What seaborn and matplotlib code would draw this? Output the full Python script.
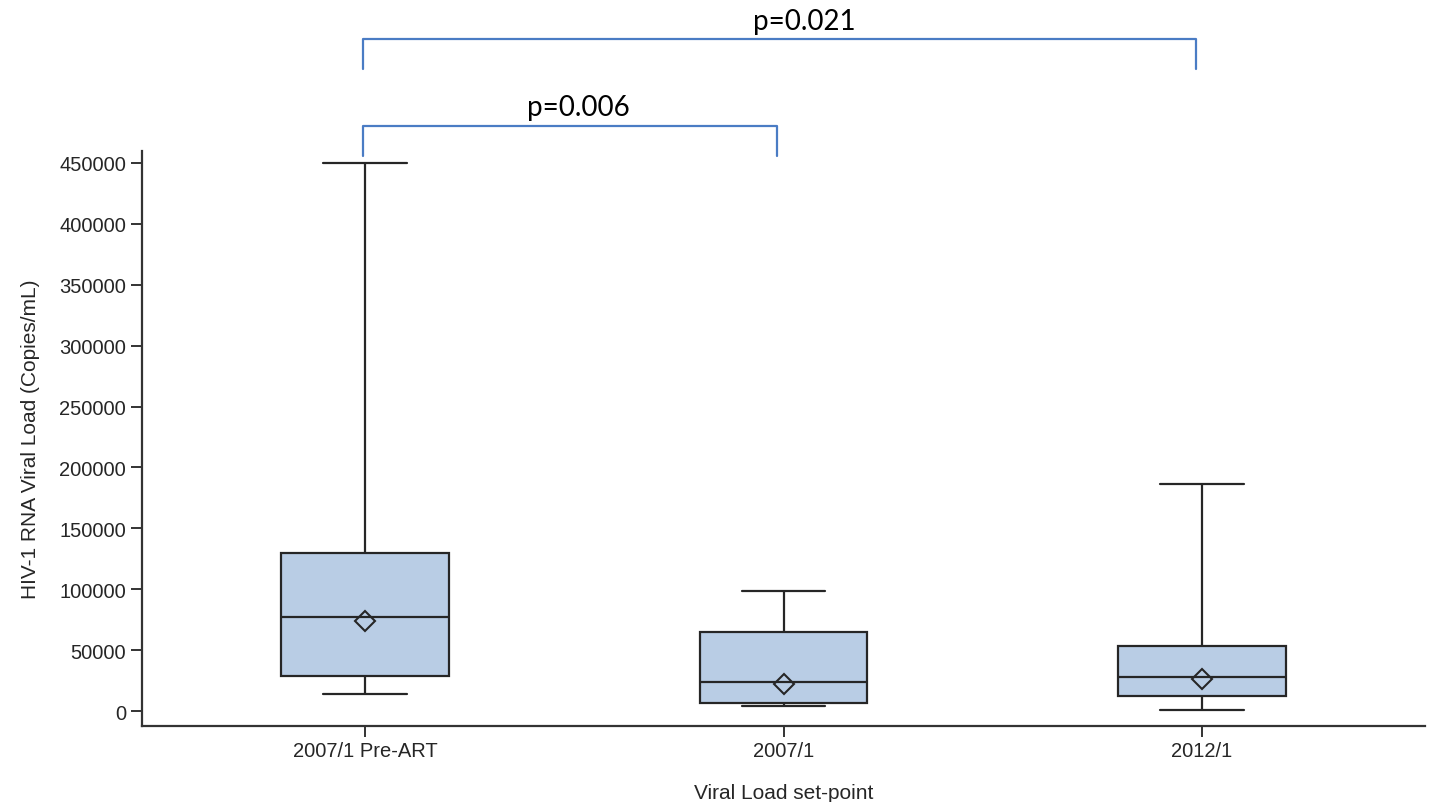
import numpy as np
import pandas as pd
import matplotlib
matplotlib.use("Agg")
import matplotlib.pyplot as plt
import matplotlib.transforms as mtransforms
import seaborn as sns

# box summary values
categories = ["2007/1 Pre-ART", "2007/1", "2012/1"]
whisker_low = [14000, 4100, 800]
q1 = [28700, 6600, 12300]
median = [77200, 23800, 27900]
q3 = [129700, 64900, 53400]
whisker_high = [450000, 98500, 186400]
means = [73900, 22200, 26300]

yticks = [0, 50000, 100000, 150000, 200000, 250000, 300000, 350000, 400000, 450000]

# significance brackets: (left group, right group, label)
comparisons = [(0, 1, "p=0.006"), (0, 2, "p=0.021")]

box_color = "#b9cde5"
edge = "#262626"
bracket_color = "#4a7cc4"

sns.set_style("ticks")
plt.rcParams["font.family"] = ["Liberation Sans", "DejaVu Sans"]

# five points per group give exact quartiles with whiskers at min/max
rows = []
for i, cat in enumerate(categories):
    for v in (whisker_low[i], q1[i], median[i], q3[i], whisker_high[i]):
        rows.append({"group": cat, "load": v})
df = pd.DataFrame(rows)

fig = plt.figure(figsize=(14.29, 8.03), dpi=100)
ax = fig.add_axes([0.0994, 0.0946, 0.8978, 0.7161])

sns.boxplot(data=df, x="group", y="load", order=categories, whis=(0, 100),
            width=0.4, color=box_color, saturation=1, linecolor=edge,
            linewidth=1.6, fliersize=0, ax=ax)
sns.pointplot(x=categories, y=means, order=categories, linestyle="none",
              markers="D", color=edge, markerfacecolor="none",
              markeredgecolor=edge, markersize=10, markeredgewidth=1.5,
              errorbar=None, ax=ax)

ax.set_xlim(-0.533, 2.533)
ax.set_ylim(-12300, 459800)
ax.set_yticks(yticks)
ax.set_yticklabels([str(t) for t in yticks])
sns.despine(ax=ax)
for s in ("left", "bottom"):
    ax.spines[s].set_linewidth(1.6)
    ax.spines[s].set_color("#333333")
ax.tick_params(axis="both", length=8, width=1.4, color="#333333",
               labelsize=14.5, labelcolor="#262626")
ax.tick_params(axis="x", pad=3)

ax.set_xlabel("Viral Load set-point", fontsize=15, color="#262626", labelpad=16)
ax.set_ylabel("HIV-1 RNA Viral Load (Copies/mL)", fontsize=15, color="#262626",
              labelpad=14)

# brackets drawn above the axes; labels sit a little right of centre
trans = mtransforms.blended_transform_factory(ax.transData, ax.transAxes)
levels = [(1.0435, 0.991, 1.0765, 0.02), (1.195, 1.1426, 1.226, 0.06)]
for (a, b, label), (top, foot, ty, shift) in zip(comparisons, levels):
    xa, xb = a - 0.005, b - 0.015
    ax.plot([xa, xa, xb, xb], [foot, top, top, foot], color=bracket_color,
            lw=1.6, transform=trans, clip_on=False, solid_joinstyle="round")
    ax.text((xa + xb) / 2 + shift, ty, label, transform=trans, ha="center",
            va="center", fontsize=20, family=["Lato", "DejaVu Sans"],
            color="black")

fig.savefig("out.png", dpi=100)
